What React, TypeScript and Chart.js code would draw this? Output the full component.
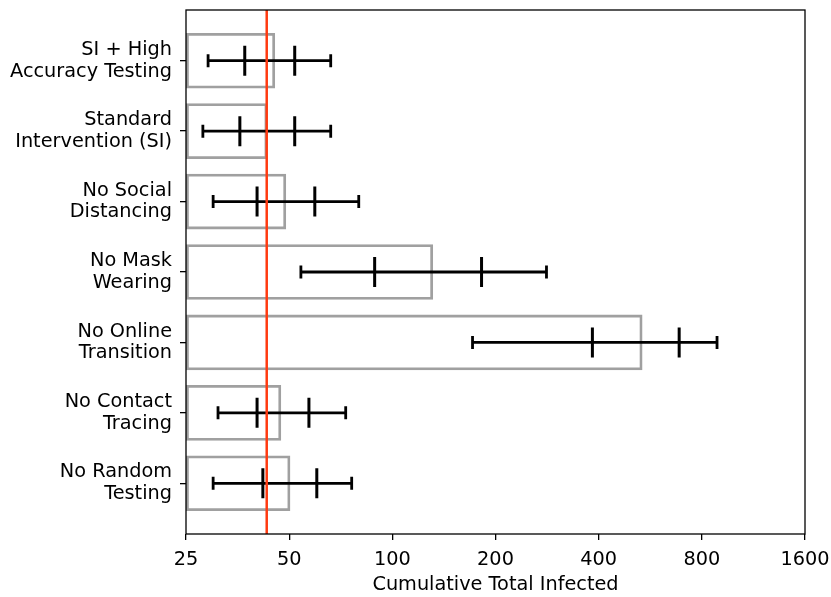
import React, { useEffect, useRef } from "react";
import { Chart, registerables } from "chart.js";

Chart.register(...registerables);

const categories: string[][] = [
  ["SI + High", "Accuracy Testing"],
  ["Standard", "Intervention (SI)"],
  ["No Social", "Distancing"],
  ["No Mask", "Wearing"],
  ["No Online", "Transition"],
  ["No Contact", "Tracing"],
  ["No Random", "Testing"],
];
const barValues = [45.5, 43.2, 49.0, 131.5, 537, 47.4, 50.4];
const whiskerLow = [29.0, 28.0, 30.0, 54.1, 171.4, 31.0, 30.0];
const quartileLow = [37.1, 35.9, 40.3, 88.8, 383.5, 40.3, 41.9];
const quartileHigh = [51.9, 51.9, 59.4, 182.1, 687, 57.1, 60.2];
const whiskerHigh = [66.1, 66.1, 79.8, 281.7, 886, 73.1, 76.1];
const referenceValue = 43.0;
const xTicks = [25, 50, 100, 200, 400, 800, 1600];
const xMin = 25;
const xMax = 1600;

const FONT = "'DejaVu Sans', sans-serif";
const FS = 19.3;

export default function App() {
  const ref = useRef<HTMLCanvasElement | null>(null);
  useEffect(() => {
    if (!ref.current) return;
    const overlay = {
      id: "overlay",
      afterDatasetsDraw(chart: any) {
        const ctx = chart.ctx;
        const xs = chart.scales.x;
        const ys = chart.scales.y;
        const ca = chart.chartArea;
        ctx.save();
        ctx.strokeStyle = "#000";
        ctx.lineCap = "butt";
        categories.forEach((_, i) => {
          const y = ys.getPixelForValue(i);
          const x0 = xs.getPixelForValue(whiskerLow[i]);
          const x1 = xs.getPixelForValue(whiskerHigh[i]);
          const q0 = xs.getPixelForValue(quartileLow[i]);
          const q1 = xs.getPixelForValue(quartileHigh[i]);
          ctx.lineWidth = 2.8;
          ctx.beginPath();
          ctx.moveTo(x0, y);
          ctx.lineTo(x1, y);
          ctx.stroke();
          ctx.beginPath();
          ctx.moveTo(x0, y - 6.5);
          ctx.lineTo(x0, y + 6.5);
          ctx.moveTo(x1, y - 6.5);
          ctx.lineTo(x1, y + 6.5);
          ctx.stroke();
          ctx.lineWidth = 3;
          ctx.beginPath();
          ctx.moveTo(q0, y - 15);
          ctx.lineTo(q0, y + 15);
          ctx.moveTo(q1, y - 15);
          ctx.lineTo(q1, y + 15);
          ctx.stroke();
        });
        const rx = xs.getPixelForValue(referenceValue);
        ctx.strokeStyle = "#ff3a10";
        ctx.lineWidth = 2.5;
        ctx.beginPath();
        ctx.moveTo(rx, ca.top);
        ctx.lineTo(rx, ca.bottom);
        ctx.stroke();
        ctx.strokeStyle = "#000";
        ctx.lineWidth = 1.3;
        ctx.strokeRect(ca.left, ca.top, ca.right - ca.left, ca.bottom - ca.top);
        ctx.restore();
      },
    };
    const chart = new Chart(ref.current, {
      type: "bar",
      data: {
        datasets: [
          {
            data: barValues.map((v, i) => ({ y: i, x: [xMin, v] })) as any,
            backgroundColor: "rgba(0,0,0,0)",
            borderColor: "#a0a0a0",
            borderWidth: 2.8,
            borderSkipped: false,
            barPercentage: 0.79,
            categoryPercentage: 1,
          },
        ],
      },
      options: {
        indexAxis: "y",
        animation: false,
        responsive: false,
        maintainAspectRatio: false,
        layout: { padding: { top: 10, right: 26, left: 0, bottom: 0 } },
        plugins: { legend: { display: false }, tooltip: { enabled: false } },
        scales: {
          x: {
            type: "logarithmic",
            min: xMin,
            max: xMax,
            offset: false,
            afterBuildTicks: (s: any) => {
              s.ticks = xTicks.map((v) => ({ value: v }));
            },
            afterFit: (s: any) => {
              s.height = 63;
              s.paddingLeft = 0;
              s.paddingRight = 0;
            },
            grid: {
              display: true,
              offset: false,
              drawOnChartArea: false,
              drawTicks: true,
              tickLength: 6,
              color: "#000",
              lineWidth: 1.3,
            },
            border: { display: false },
            ticks: {
              color: "#000",
              font: { family: FONT, size: FS },
              padding: 8,
              maxRotation: 0,
              autoSkip: false,
              callback: (v: any) => String(v),
            },
            title: {
              display: true,
              text: "Cumulative Total Infected",
              color: "#000",
              font: { family: FONT, size: FS },
              padding: { top: 0, bottom: 0 },
            },
          },
          y: {
            type: "linear",
            min: -0.72,
            max: 6.72,
            reverse: true,
            offset: false,
            afterBuildTicks: (s: any) => {
              s.ticks = categories.map((_, i) => ({ value: i }));
            },
            afterFit: (s: any) => {
              s.width = 186;
              s.paddingTop = 0;
              s.paddingBottom = 0;
            },
            grid: {
              display: true,
              offset: false,
              drawOnChartArea: false,
              drawTicks: true,
              tickLength: 6,
              color: "#000",
              lineWidth: 1.3,
            },
            border: { display: false },
            ticks: {
              color: "#000",
              font: { family: FONT, size: FS, lineHeight: 1.13 },
              padding: 8,
              autoSkip: false,
              callback: (v: any) => categories[Math.round(v)] ?? "",
            },
          },
        },
      },
      plugins: [overlay],
    });
    return () => chart.destroy();
  }, []);
  return (
    <div style={{ position: "absolute", left: 0, top: 0, width: 831, height: 597, background: "#fff" }}>
      <canvas ref={ref} width={831} height={597} style={{ width: 831, height: 597 }} />
    </div>
  );
}
